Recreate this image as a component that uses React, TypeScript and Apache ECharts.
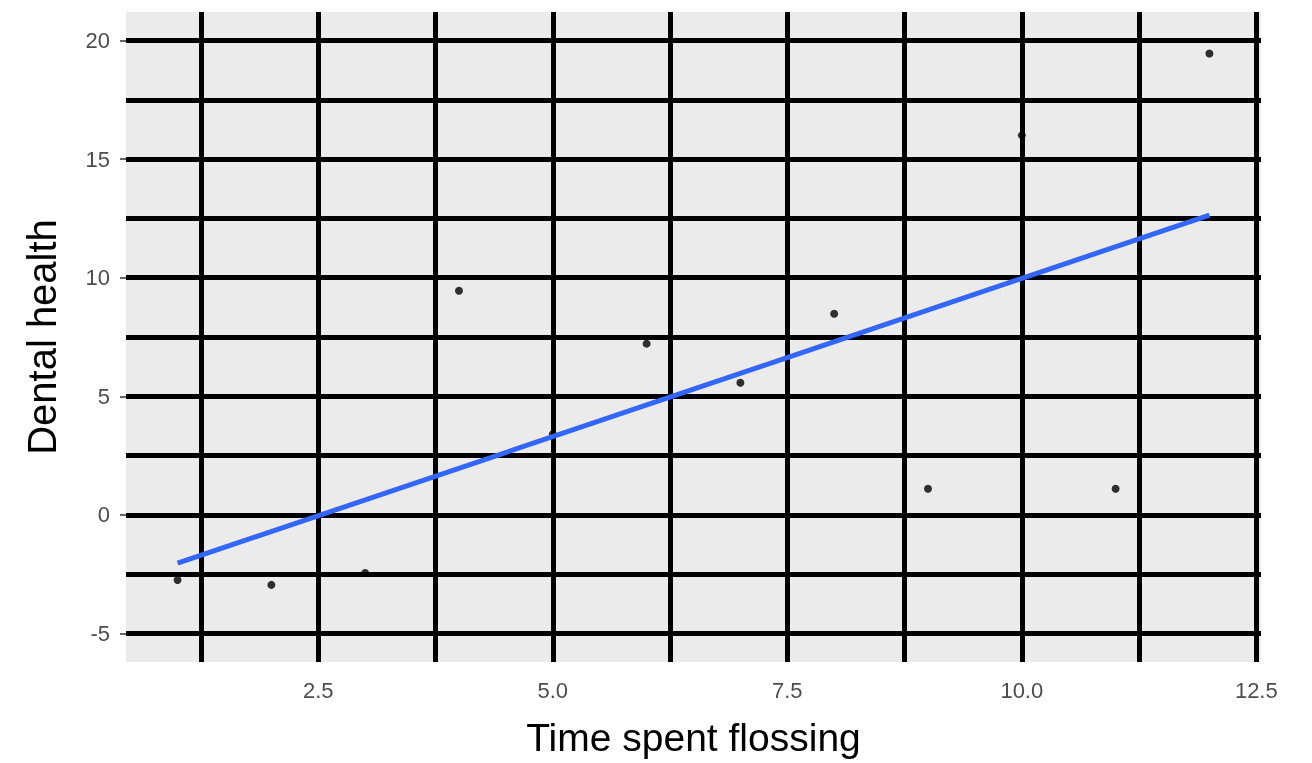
import React, { useEffect, useRef } from "react";
import * as echarts from "echarts";

// Observations: minutes spent flossing vs. dental health score
const flossingTime = [1, 2, 3, 4, 5, 6, 7, 8, 9, 10, 11, 12];
const dentalHealth = [-2.74, -2.95, -2.45, 9.45, 3.4, 7.22, 5.57, 8.48, 1.1, 16.0, 1.1, 19.45];

// Tick and grid positions
const xTickValues = [2.5, 5, 7.5, 10, 12.5];
const yTickValues = [-5, 0, 5, 10, 15, 20];
const xGridValues = [1.25, 2.5, 3.75, 5, 6.25, 7.5, 8.75, 10, 11.25, 12.5];
const yGridValues = [-5, -2.5, 0, 2.5, 5, 7.5, 10, 12.5, 15, 17.5, 20];

const X_MIN = 0.45;
const X_MAX = 12.55;
const Y_MIN = -6.2;
const Y_MAX = 21.2;

// Ordinary least squares fit, evaluated at the ends of the data range
function linearFit(xs: number[], ys: number[]): [number, number][] {
  const n = xs.length;
  const mx = xs.reduce((a, b) => a + b, 0) / n;
  const my = ys.reduce((a, b) => a + b, 0) / n;
  let sxy = 0;
  let sxx = 0;
  for (let i = 0; i < n; i++) {
    sxy += (xs[i] - mx) * (ys[i] - my);
    sxx += (xs[i] - mx) * (xs[i] - mx);
  }
  const slope = sxy / sxx;
  const intercept = my - slope * mx;
  const lo = Math.min(...xs);
  const hi = Math.max(...xs);
  return [
    [lo, intercept + slope * lo],
    [hi, intercept + slope * hi],
  ];
}

const FONT = "'Liberation Sans', Arial, Helvetica, sans-serif";

export default function App() {
  const ref = useRef<HTMLDivElement>(null);

  useEffect(() => {
    if (!ref.current) return;
    const chart = echarts.init(ref.current, undefined, { renderer: "svg" });

    const points = flossingTime.map((x, i) => [x, dentalHealth[i]]);
    const fit = linearFit(flossingTime, dentalHealth);

    chart.setOption({
      animation: false,
      grid: {
        left: 126,
        top: 12,
        width: 1135,
        height: 650,
        outerBoundsMode: "none",
        containLabel: false,
        show: true,
        backgroundColor: "#EBEBEB",
        borderWidth: 0,
      },
      xAxis: {
        type: "value",
        min: X_MIN,
        max: X_MAX,
        name: "Time spent flossing",
        nameLocation: "middle",
        nameGap: 56,
        nameTextStyle: { color: "#000", fontSize: 39, fontFamily: FONT },
        axisLine: { show: false },
        splitLine: { show: false },
        axisTick: {
          show: true,
          customValues: xTickValues,
          length: 6,
          lineStyle: { color: "#333", width: 1.5 },
        },
        axisLabel: {
          customValues: xTickValues,
          color: "#4D4D4D",
          fontSize: 22,
          fontFamily: FONT,
          margin: 17,
          formatter: (v: number) => v.toFixed(1),
        },
      },
      yAxis: {
        type: "value",
        min: Y_MIN,
        max: Y_MAX,
        name: "Dental health",
        nameLocation: "middle",
        nameGap: 64,
        nameRotate: 90,
        nameTextStyle: { color: "#000", fontSize: 40, fontFamily: FONT },
        axisLine: { show: false },
        splitLine: { show: false },
        axisTick: {
          show: true,
          customValues: yTickValues,
          length: 6,
          lineStyle: { color: "#333", width: 1.5 },
        },
        axisLabel: {
          customValues: yTickValues,
          color: "#4D4D4D",
          fontSize: 22,
          fontFamily: FONT,
          margin: 16,
        },
      },
      series: [
        {
          type: "scatter",
          data: points,
          symbol: "circle",
          symbolSize: 8,
          itemStyle: { color: "#000" },
          z: 2,
          silent: true,
          markLine: {
            silent: true,
            symbol: "none",
            label: { show: false },
            emphasis: { disabled: true },
            lineStyle: { color: "#000", width: 5, type: "solid", opacity: 1 },
            data: [
              ...xGridValues.map((v) => ({ xAxis: v })),
              ...yGridValues.map((v) => ({ yAxis: v })),
            ],
          },
        },
        {
          type: "line",
          data: fit,
          showSymbol: false,
          symbol: "none",
          lineStyle: { color: "#3366FF", width: 5 },
          z: 10,
          silent: true,
        },
      ],
    });

    return () => chart.dispose();
  }, []);

  return (
    <div
      ref={ref}
      style={{ position: "fixed", left: 0, top: 0, width: 1281, height: 763 }}
    />
  );
}
